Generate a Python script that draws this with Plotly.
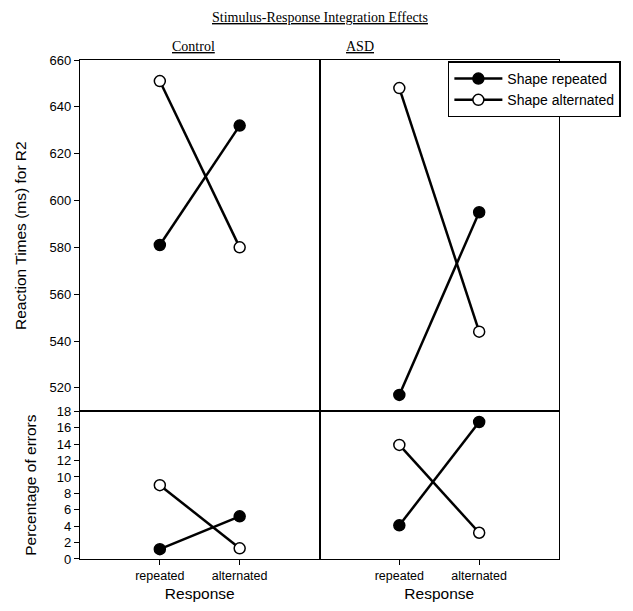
import plotly.graph_objects as go

responses = ["repeated", "alternated"]
x_pos = [1, 2]

# Reaction times (ms)
rt_control_shape_rep = [581, 632]
rt_control_shape_alt = [651, 580]
rt_asd_shape_rep = [517, 595]
rt_asd_shape_alt = [648, 544]

# Percentage of errors
err_control_shape_rep = [1.2, 5.2]
err_control_shape_alt = [9.0, 1.3]
err_asd_shape_rep = [4.1, 16.7]
err_asd_shape_alt = [13.9, 3.2]

series_names = ["Shape repeated", "Shape alternated"]

fig = go.Figure()

def add(xa, ya, y, filled, show):
    fig.add_trace(go.Scatter(
        x=x_pos, y=y, xaxis=xa, yaxis=ya, mode="lines+markers",
        name=series_names[0] if filled else series_names[1],
        showlegend=show, legendrank=1 if filled else 2,
        line=dict(color="black", width=2.5),
        marker=dict(size=11, color="black" if filled else "white",
                    line=dict(color="black", width=1.5)),
    ))

add("x", "y", rt_control_shape_rep, True, True)
add("x", "y", rt_control_shape_alt, False, True)
add("x2", "y2", rt_asd_shape_rep, True, False)
add("x2", "y2", rt_asd_shape_alt, False, False)
add("x3", "y3", err_control_shape_rep, True, False)
add("x3", "y3", err_control_shape_alt, False, False)
add("x4", "y4", err_asd_shape_rep, True, False)
add("x4", "y4", err_asd_shape_alt, False, False)

ytickfont = dict(family="Liberation Sans, Arial", size=13, color="black")
xtickfont = dict(family="Liberation Sans, Arial", size=12.5, color="black")
titlefont = dict(family="Liberation Sans, Arial", size=15.5, color="black")
serif = dict(family="Liberation Serif, Times New Roman", size=14, color="black")
split = 0.296

common_x = dict(range=[0, 3], showgrid=False, zeroline=False, showline=True,
                linecolor="black", linewidth=1.3, mirror=True)
common_y = dict(showgrid=False, zeroline=False, showline=True,
                linecolor="black", linewidth=1.3, mirror=True)

fig.update_layout(
    width=625, height=603,
    margin=dict(l=68, r=66, t=52, b=44),
    plot_bgcolor="white", paper_bgcolor="white",
    xaxis=dict(domain=[0, 0.5], anchor="y", showticklabels=False, ticks="", **common_x),
    xaxis2=dict(domain=[0.5, 1], anchor="y2", showticklabels=False, ticks="", **common_x),
    xaxis3=dict(domain=[0, 0.5], anchor="y3", tickvals=x_pos, ticktext=responses,
                ticks="outside", ticklen=5, tickcolor="black", tickfont=xtickfont,
                title=dict(text="Response", font=titlefont, standoff=5), **common_x),
    xaxis4=dict(domain=[0.5, 1], anchor="y4", tickvals=x_pos, ticktext=responses,
                ticks="outside", ticklen=5, tickcolor="black", tickfont=xtickfont,
                title=dict(text="Response", font=titlefont, standoff=5), **common_x),
    yaxis=dict(domain=[split, 1], anchor="x", range=[510, 660], dtick=20, tick0=520,
               ticks="outside", ticklen=5, tickcolor="black", tickfont=ytickfont,
               title=dict(text="Reaction Times (ms) for R2", font=titlefont, standoff=19),
               **common_y),
    yaxis2=dict(domain=[split, 1], anchor="x2", range=[510, 660], showticklabels=False,
                ticks="", **common_y),
    yaxis3=dict(domain=[0, split], anchor="x3", range=[0, 18], dtick=2,
                ticks="outside", ticklen=5, tickcolor="black", tickfont=ytickfont,
                title=dict(text="Percentage of errors", font=titlefont, standoff=16),
                **common_y),
    yaxis4=dict(domain=[0, split], anchor="x4", range=[0, 18], showticklabels=False,
                ticks="", **common_y),
    legend=dict(x=0.768, y=0.997, xanchor="left", yanchor="top",
                bordercolor="black", borderwidth=1.5, bgcolor="white",
                font=dict(family="Liberation Sans, Arial", size=14, color="black"),
                tracegroupgap=0, itemwidth=48),
    annotations=[
        dict(text="<u>Stimulus-Response Integration Effects</u>", xref="paper", yref="paper",
             x=0.5, y=1.086, xanchor="center", yanchor="middle", showarrow=False, font=serif),
        dict(text="<u>Control</u>", xref="paper", yref="paper", x=0.236, y=1.027,
             xanchor="center", yanchor="middle", showarrow=False, font=serif),
        dict(text="<u>ASD</u>", xref="paper", yref="paper", x=0.585, y=1.027,
             xanchor="center", yanchor="middle", showarrow=False, font=serif),
    ],
)

fig.write_html("out.html")
